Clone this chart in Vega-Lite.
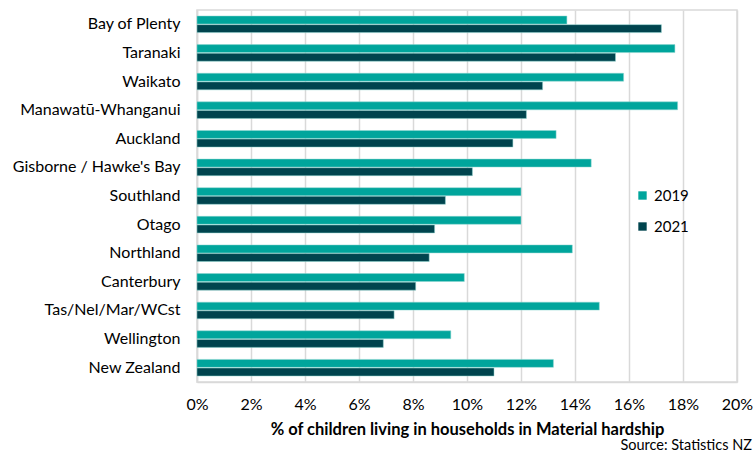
{
  "$schema": "https://vega.github.io/schema/vega-lite/v6.json",
  "width": 540,
  "height": 372,
  "autosize": {"type": "none"},
  "padding": {"left": 197, "top": 10, "right": 18, "bottom": 74},
  "background": "white",
  "config": {
    "font": "Lato",
    "view": {"stroke": "#d9d9d9", "strokeWidth": 1.5}
  },
  "title": {
    "text": "Source: Statistics NZ",
    "orient": "bottom",
    "anchor": "end",
    "frame": "group",
    "font": "Lato",
    "fontSize": 14.5,
    "fontWeight": "normal",
    "color": "#000000",
    "dx": 15,
    "offset": 1
  },
  "data": {
    "values": [
      {"region": "Bay of Plenty", "year": "2019", "value": 13.7},
      {"region": "Bay of Plenty", "year": "2021", "value": 17.2},
      {"region": "Taranaki", "year": "2019", "value": 17.7},
      {"region": "Taranaki", "year": "2021", "value": 15.5},
      {"region": "Waikato", "year": "2019", "value": 15.8},
      {"region": "Waikato", "year": "2021", "value": 12.8},
      {"region": "Manawatū-Whanganui", "year": "2019", "value": 17.8},
      {"region": "Manawatū-Whanganui", "year": "2021", "value": 12.2},
      {"region": "Auckland", "year": "2019", "value": 13.3},
      {"region": "Auckland", "year": "2021", "value": 11.7},
      {"region": "Gisborne / Hawke's Bay", "year": "2019", "value": 14.6},
      {"region": "Gisborne / Hawke's Bay", "year": "2021", "value": 10.2},
      {"region": "Southland", "year": "2019", "value": 12.0},
      {"region": "Southland", "year": "2021", "value": 9.2},
      {"region": "Otago", "year": "2019", "value": 12.0},
      {"region": "Otago", "year": "2021", "value": 8.8},
      {"region": "Northland", "year": "2019", "value": 13.9},
      {"region": "Northland", "year": "2021", "value": 8.6},
      {"region": "Canterbury", "year": "2019", "value": 9.9},
      {"region": "Canterbury", "year": "2021", "value": 8.1},
      {"region": "Tas/Nel/Mar/WCst", "year": "2019", "value": 14.9},
      {"region": "Tas/Nel/Mar/WCst", "year": "2021", "value": 7.3},
      {"region": "Wellington", "year": "2019", "value": 9.4},
      {"region": "Wellington", "year": "2021", "value": 6.9},
      {"region": "New Zealand", "year": "2019", "value": 13.2},
      {"region": "New Zealand", "year": "2021", "value": 11.0}
    ]
  },
  "mark": {"type": "bar", "stroke": "#8fd6d0", "strokeWidth": 0.5},
  "encoding": {
    "y": {
      "field": "region",
      "type": "nominal",
      "sort": null,
      "scale": {"paddingInner": 0.42, "paddingOuter": 0.21},
      "axis": {
        "title": null,
        "labelFontSize": 16,
        "labelColor": "#000000",
        "labelPadding": 17,
        "ticks": false,
        "domainColor": "#d9d9d9",
        "domainWidth": 1.5
      }
    },
    "yOffset": {"field": "year", "type": "nominal", "sort": ["2019", "2021"], "scale": {"paddingInner": 0.08}},
    "x": {
      "field": "value",
      "type": "quantitative",
      "scale": {"domain": [0, 20], "nice": false},
      "axis": {
        "values": [0, 2, 4, 6, 8, 10, 12, 14, 16, 18, 20],
        "labelExpr": "datum.value + '%'",
        "labelFlush": false,
        "labelFontSize": 16,
        "labelColor": "#000000",
        "labelPadding": 14,
        "ticks": false,
        "domainColor": "#d9d9d9",
        "domainWidth": 1.5,
        "gridColor": "#d9d9d9",
        "gridWidth": 1.5,
        "title": "% of children living in households in Material hardship",
        "titleFontSize": 16.5,
        "titleFontWeight": "bold",
        "titleColor": "#000000",
        "titlePadding": 9
      }
    },
    "color": {
      "field": "year",
      "type": "nominal",
      "scale": {"domain": ["2019", "2021"], "range": ["#00A59C", "#00444E"]},
      "legend": {
        "title": null,
        "orient": "none",
        "legendX": 438,
        "legendY": 178,
        "symbolType": "square",
        "symbolSize": 70,
        "symbolStrokeWidth": 0,
        "labelFontSize": 15,
        "labelColor": "#000000",
        "rowPadding": 15,
        "labelOffset": 4
      }
    }
  }
}
